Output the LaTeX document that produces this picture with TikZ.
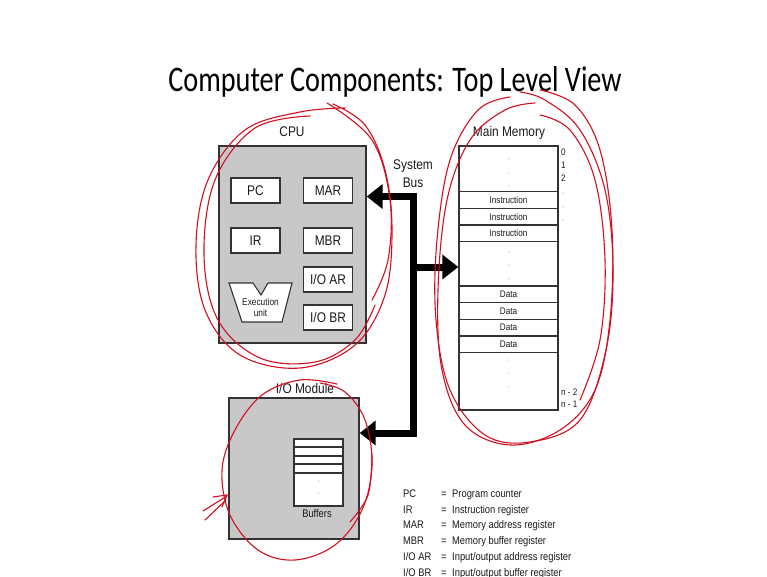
\documentclass[tikz,border=0pt]{standalone}
\usepackage{fontspec}
\setmainfont{Liberation Sans}[FakeStretch=0.85]
\newfontfamily\titlefont{Carlito}[FakeStretch=0.785]
\usetikzlibrary{arrows.meta}
\definecolor{boxgray}{HTML}{C8C8C8}
\definecolor{edge}{HTML}{333333}
\definecolor{ink}{HTML}{1A1A1A}
\definecolor{pen}{HTML}{D01020}
\newcommand{\fs}[1]{\fontsize{#1}{#1}\selectfont}
\tikzset{
  unitbox/.style={draw=edge, fill=boxgray, line width=1.4pt, inner sep=0pt},
  reg/.style={draw=edge, fill=white, line width=1.1pt, minimum width=49pt, minimum height=25pt, inner sep=0pt, font=\fs{14}, text=ink},
  cell/.style={draw=edge, fill=white, line width=1.3pt, inner sep=0pt, font=\fs{9.6}, text=ink},
  lbl/.style={font=\fs{14}, text=ink, inner sep=0pt},
  addr/.style={font=\fs{9.5}, text=ink, inner sep=0pt, anchor=west},
  legend/.style={font=\fs{11}, text=ink, inner sep=0pt, anchor=base west},
  dotmark/.style={fill=gray!70, draw=none},
  bus/.style={line width=7pt, draw=black, line join=miter},
  bushead/.style={-{Triangle[length=16pt,width=24pt]}},
  scribble/.style={draw=pen, line width=1.1pt, line cap=round}
}
\begin{document}
\begin{tikzpicture}[x=1pt,y=-1pt]
\useasboundingbox (0,0) rectangle (767,577);
\clip (0,0) rectangle (767,577);
\fill[white] (0,0) rectangle (767,577);

% title
\node[anchor=base, inner sep=0pt, text=black] (title) at (395,92) {\titlefont\fontsize{36}{36}\selectfont Computer Components: Top Level View};

% CPU
\node[unitbox, minimum width=147pt, minimum height=197pt] (cpu) at (292.5,244.5) {};
\node[lbl] (cpulbl) at (292,132) {CPU};
\node[reg] (pc) at (255.5,190.5) {PC};
\node[reg] (mar) at (328,190.5) {MAR};
\node[reg] (ir) at (255.5,240.5) {IR};
\node[reg] (mbr) at (328,240.5) {MBR};
\node[reg] (ioar) at (328,279.5) {I/O AR};
\node[reg] (iobr) at (328,317.5) {I/O BR};
\draw[draw=edge, fill=white, line width=1.1pt, line join=miter]
  (229,283) -- (253,283) -- (261,295) -- (268,283) -- (292,283) -- (282,322) -- (242,322) -- cycle;
\node[inner sep=0pt, align=center, font=\fontsize{9.8}{11}\selectfont, text=ink] (exec) at (260.5,307.5) {Execution\\unit};

% Main memory
\node[lbl] (memlbl) at (509,133) {Main Memory};
\node[draw=edge, line width=1.4pt, fill=white, minimum width=99pt, minimum height=264pt, inner sep=0pt] (mem) at (508.5,278) {};
\node[cell, minimum width=99pt, minimum height=16.4pt] (ins1) at (508.5,200) {Instruction};
\node[cell, minimum width=99pt, minimum height=16.4pt] (ins2) at (508.5,216.6) {Instruction};
\node[cell, minimum width=99pt, minimum height=16.4pt] (ins3) at (508.5,233.1) {Instruction};
\node[cell, minimum width=99pt, minimum height=16.6pt] (dat1) at (508.5,294.2) {Data};
\node[cell, minimum width=99pt, minimum height=16.6pt] (dat2) at (508.5,311) {Data};
\node[cell, minimum width=99pt, minimum height=16.6pt] (dat3) at (508.5,327.6) {Data};
\node[cell, minimum width=99pt, minimum height=16.6pt] (dat4) at (508.5,344.2) {Data};
\foreach \y in {159,173,186,252,265,279,360,373,387} \fill[dotmark] (509,\y) circle (0.7);
\node[addr] (a0) at (561,152) {0};
\node[addr] (a1) at (561,165) {1};
\node[addr] (a2) at (561,178) {2};
\foreach \y in {193,207,220} \fill[dotmark] (563,\y) circle (0.7);
\node[addr] (an2) at (561,392) {n - 2};
\node[addr] (an1) at (561,404) {n - 1};

% I/O module
\node[unitbox, minimum width=130pt, minimum height=141pt] (io) at (294,468.5) {};
\node[lbl] (iolbl) at (305,388) {I/O Module};
\node[draw=edge, fill=white, line width=1.1pt, minimum width=49pt, minimum height=67pt, inner sep=0pt] (buf) at (318.5,472.5) {};
\foreach \y in {447,456,464,473} \draw[edge, line width=1.1pt] (buf.west |- 0,\y) -- (buf.east |- 0,\y);
\foreach \y in {481,493} \fill[dotmark] (318.5,\y) circle (0.6);
\node[inner sep=0pt, font=\fs{11}, text=ink] (buflbl) at (317,514) {Buffers};

% system bus
\node[lbl, align=center, font=\fontsize{14}{18}\selectfont] (buslbl) at (413,174) {System\\Bus};
\coordinate (bt) at (413.5,196.5);
\coordinate (bb) at (413.5,433);
\coordinate (bm) at (413.5,267);
\draw[bus, {Triangle[length=16pt,width=24pt]}-{Triangle[length=16pt,width=24pt]}] (bt -| cpu.east) -- (bt) -- (bb) -- (bb -| io.east);
\draw[bus, bushead] (bm) -- (bm -| mem.west);

% legend
\node[legend] (l1a) at (403,497.5) {PC};
\node[legend] (l2a) at (403,513.2) {IR};
\node[legend] (l3a) at (403,528.9) {MAR};
\node[legend] (l4a) at (403,544.6) {MBR};
\node[legend] (l5a) at (403,560.3) {I/O AR};
\node[legend] (l6a) at (403,576) {I/O BR};
\foreach \y/\n in {497.5/1,513.2/2,528.9/3,544.6/4,560.3/5,576/6} \node[legend] (l\n b) at (441,\y) {=};
\node[legend] (l1c) at (452,497.5) {Program counter};
\node[legend] (l2c) at (452,513.2) {Instruction register};
\node[legend] (l3c) at (452,528.9) {Memory address register};
\node[legend] (l4c) at (452,544.6) {Memory buffer register};
\node[legend] (l5c) at (452,560.3) {Input/output address register};
\node[legend] (l6c) at (452,576) {Input/output buffer register};

% red hand annotations
\draw[scribble] plot[smooth, tension=0.6] coordinates {(333,104) (365,125) (385,170) (392,230) (385,295) (355,345) (300,368) (240,355) (205,310) (196,245) (208,180) (245,130) (300,112) (345,108)};
\draw[scribble] plot[smooth, tension=0.6] coordinates {(327,103) (372,140) (390,200) (388,260) (372,300)};
\draw[scribble] plot[smooth, tension=0.6] coordinates {(310,116) (255,128) (215,180) (204,255) (218,320) (260,358) (315,362) (355,340) (375,305)};

\draw[scribble] plot[smooth, tension=0.6] coordinates {(510,97) (478,110) (450,160) (437,240) (436,320) (450,390) (485,435) (530,442) (580,420) (606,350) (613,270) (605,190) (580,130) (545,100) (520,92)};
\draw[scribble] plot[smooth, tension=0.6] coordinates {(540,90) (575,105) (600,150) (612,230) (610,320) (595,390) (560,430) (510,445) (465,425) (442,370) (438,290) (447,200) (470,140) (505,110) (535,103)};
\draw[scribble] plot[smooth, tension=0.6] coordinates {(540,115) (570,130) (595,180) (605,260) (600,340) (580,400)};

\draw[scribble] plot[smooth, tension=0.6] coordinates {(337,384) (300,380) (262,395) (235,430) (222,470) (230,515) (258,550) (295,560) (335,545) (362,510) (372,465) (365,420) (345,392) (320,383)};
\draw[scribble] plot[smooth, tension=0.6] coordinates {(372,455) (368,495) (350,522)};
\draw[scribble] (203,511) -- (227,496);
\draw[scribble] (205,520) -- (226,500);
\draw[scribble] (213,497) -- (227,495) -- (222,507);
\end{tikzpicture}
\end{document}
